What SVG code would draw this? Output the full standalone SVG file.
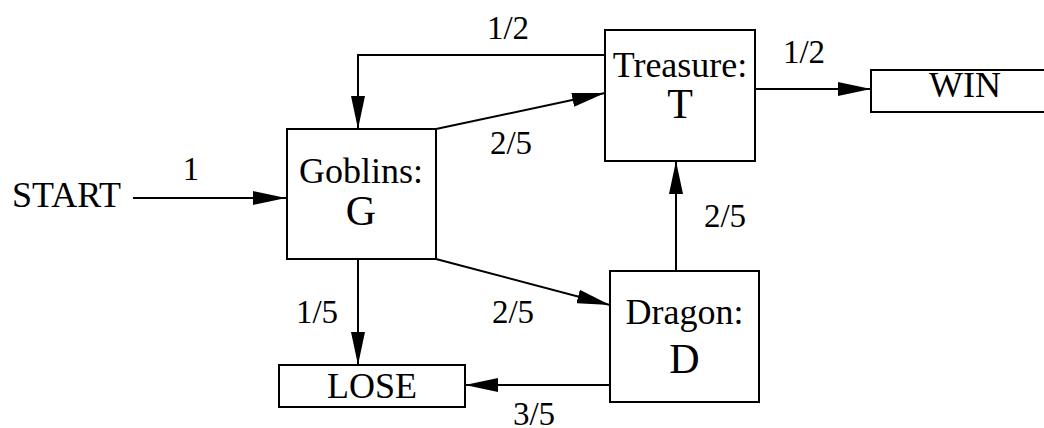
<svg xmlns="http://www.w3.org/2000/svg" width="1044" height="428" viewBox="0 0 1044 428" font-family="'Liberation Serif', 'Times New Roman', serif">
<defs>
<style>
.box{fill:#fff;stroke:#000;stroke-width:2}
.edge{fill:none;stroke:#000;stroke-width:2;marker-end:url(#arr)}
.t,.big,.lbl{font-family:'Liberation Serif','Times New Roman',serif;fill:#000;text-anchor:middle}
.t{font-size:36px}
.big{font-size:42px}
.lbl{font-size:33px}
.left{text-anchor:start}
</style>
<marker id="arr" markerUnits="userSpaceOnUse" markerWidth="34" markerHeight="14" refX="33" refY="7" orient="auto" viewBox="0 0 34 14">
<path d="M0,0 L33,7 L0,14 z" fill="#000"/>
</marker>
</defs>
<rect width="1044" height="428" fill="#fff"/>
<g id="connectors">
<path class="edge" d="M133,198 H286"/>
<path class="edge" d="M605,55 H358 V129"/>
<path class="edge" d="M436,129 L605,93"/>
<path class="edge" d="M755,89 H871"/>
<path class="edge" d="M676,271 V161"/>
<path class="edge" d="M436,259 L610,305"/>
<path class="edge" d="M358,259 V365"/>
<path class="edge" d="M610,385 H465"/>
<text class="lbl" x="191" y="180" font-family="Liberation Serif, serif">1</text>
<text class="lbl" x="508" y="39" font-family="Liberation Serif, serif">1/2</text>
<text class="lbl" x="511" y="154" font-family="Liberation Serif, serif">2/5</text>
<text class="lbl" x="804" y="63" font-family="Liberation Serif, serif">1/2</text>
<text class="lbl" x="725" y="227" font-family="Liberation Serif, serif">2/5</text>
<text class="lbl" x="513" y="323" font-family="Liberation Serif, serif">2/5</text>
<text class="lbl" x="317" y="323" font-family="Liberation Serif, serif">1/5</text>
<text class="lbl" x="534" y="425" font-family="Liberation Serif, serif">3/5</text>
</g>
<g id="start">
<text class="t left" x="12" y="207" font-family="Liberation Serif, serif">START</text>
</g>
<g id="goblins">
<rect class="box" x="287" y="129" width="149" height="130"/>
<text class="t" x="361" y="183">Goblins:</text>
<text class="big" x="361" y="225">G</text>
</g>
<g id="treasure">
<rect class="box" x="605" y="30" width="150" height="131"/>
<text class="t" x="680" y="77">Treasure:</text>
<text class="big" x="680" y="118">T</text>
</g>
<g id="dragon">
<rect class="box" x="610" y="271" width="149" height="131"/>
<text class="t" x="684.5" y="324">Dragon:</text>
<text class="big" x="684.5" y="373">D</text>
</g>
<g id="win">
<rect class="box" x="871" y="70" width="188" height="42"/>
<text class="t" x="965" y="97">WIN</text>
</g>
<g id="lose">
<rect class="box" x="279" y="365" width="186" height="42"/>
<text class="t" x="372" y="398">LOSE</text>
</g>
</svg>
